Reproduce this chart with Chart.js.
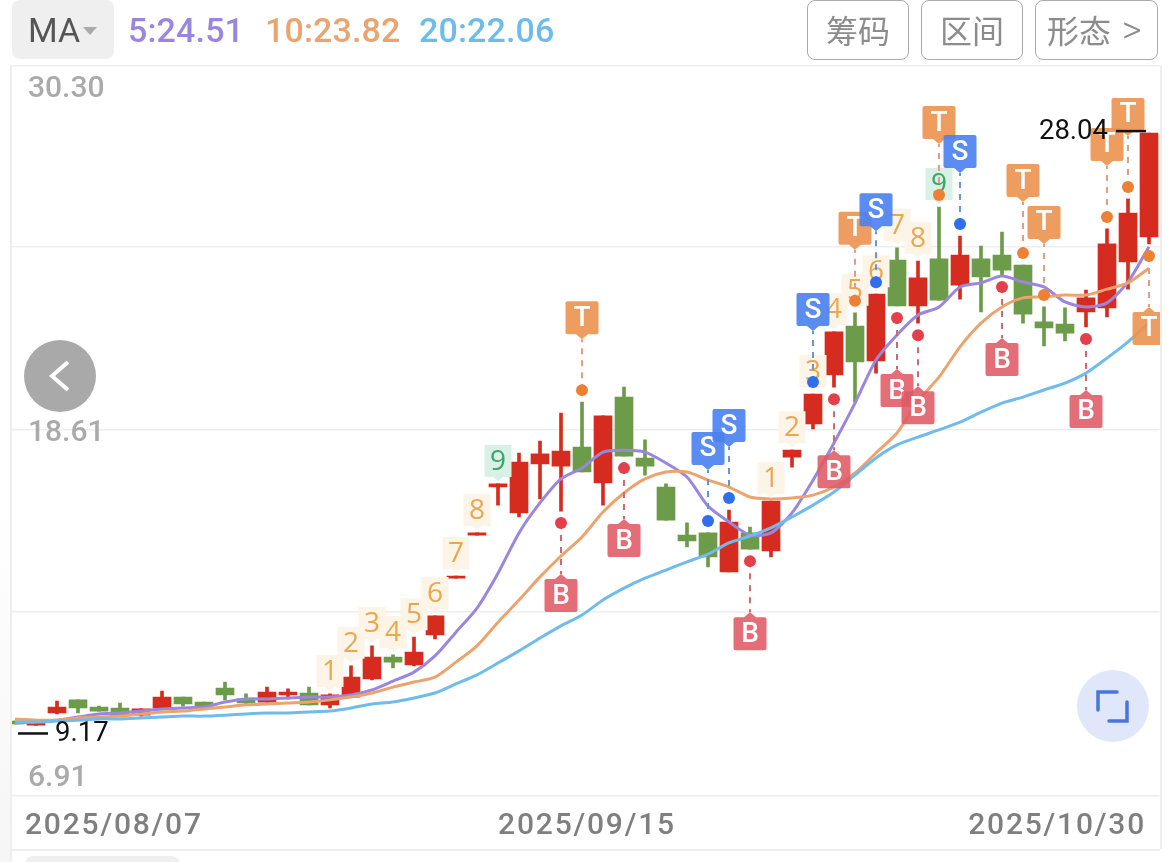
<!DOCTYPE html>
<html>
<head>
<meta charset="utf-8">
<title>MA</title>
<script src="https://cdn.jsdelivr.net/npm/chart.js@4"></script>
<style>
  html, body { margin: 0; padding: 0; background: #fff; overflow: hidden; }
  #wrap { position: relative; width: 1170px; height: 862px; font-family: Roboto, sans-serif; }
  #grafico { position: absolute; left: 0; top: 0; }
  .abs { position: absolute; box-sizing: border-box; }
  .ma-box { left: 12px; top: 0; width: 102px; height: 59px; background: #efefef; border-radius: 8px; }
  .ma-text { left: 28px; top: 10px; font-size: 34px; line-height: 40px; color: #555; }
  .ma-arrow { left: 83px; top: 27px; width: 0; height: 0; border-left: 7px solid transparent; border-right: 7px solid transparent; border-top: 8px solid #aaa; }
  .leg { top: 10px; font-size: 34px; line-height: 40px; font-weight: 500; letter-spacing: 0.15px; }
  .btn { top: 0; height: 60px; border: 1.5px solid #aaa; border-radius: 8px; color: #8c8c8c; font-family: "Noto Sans CJK SC", sans-serif; font-size: 32px; line-height: 56px; text-align: center; font-weight: 400; }
  .frame { background: #eeeeee; }
  .mask { background: #fff; }
  .back { left: 24px; top: 340px; width: 72px; height: 72px; border-radius: 50%; background: #a9a9a9; }
  .expand { left: 1077px; top: 670px; width: 72px; height: 72px; border-radius: 50%; background: #e0e7fa; }
  .tab { left: 25px; top: 856px; width: 155px; height: 20px; border-radius: 8px; background: #efefef; }
</style>
</head>
<body>
<div id="wrap">
  <canvas id="grafico" width="1170" height="862"></canvas>

  <div class="abs mask" style="left:0;top:60px;width:10px;height:802px;background:linear-gradient(to bottom,#fff 55%,#f6f6f6)"></div>
  <div class="abs mask" style="left:1160px;top:60px;width:10px;height:802px"></div>
  <div class="abs frame" style="left:10px;top:66px;width:1.5px;height:796px"></div>
  <div class="abs frame" style="left:1160px;top:66px;width:1.5px;height:783px"></div>
  <div class="abs frame" style="left:10px;top:849px;width:1150px;height:1.5px"></div>

  <div class="abs ma-box"></div>
  <div class="abs ma-text">MA</div>
  <div class="abs ma-arrow"></div>
  <div class="abs leg" style="left:128px;color:#9b86df">5:24.51</div>
  <div class="abs leg" style="left:265px;color:#eba36f">10:23.82</div>
  <div class="abs leg" style="left:419px;color:#6fbcec">20:22.06</div>
  <div class="abs btn" style="left:807px;width:102px">筹码</div>
  <div class="abs btn" style="left:921px;width:102px">区间</div>
  <div class="abs btn" style="left:1035px;width:123px;text-align:left;padding-left:11px">形态</div>
  <div class="abs" style="left:1122px;top:7px;font-size:38px;line-height:46px;font-weight:300;color:#8c8c8c">&gt;</div>

  <div class="abs back">
    <svg width="72" height="72"><polyline points="44,22 28,36 44,50" fill="none" stroke="#fff" stroke-width="4"/></svg>
  </div>
  <div class="abs expand">
    <svg width="72" height="72"><path d="M21 40 V22 H40 M50 32 V51 H32" fill="none" stroke="#4a76dc" stroke-width="3.5" stroke-linecap="round"/></svg>
  </div>
  <div class="abs tab"></div>
</div>

<script>
// dias de negociação
const dates = [
  '2025/08/07','2025/08/08','2025/08/11','2025/08/12','2025/08/13','2025/08/14','2025/08/15',
  '2025/08/18','2025/08/19','2025/08/20','2025/08/21','2025/08/22',
  '2025/08/25','2025/08/26','2025/08/27','2025/08/28','2025/08/29',
  '2025/09/01','2025/09/02','2025/09/03','2025/09/04','2025/09/05',
  '2025/09/08','2025/09/09','2025/09/10','2025/09/11','2025/09/12',
  '2025/09/15','2025/09/16','2025/09/17','2025/09/18','2025/09/19',
  '2025/09/22','2025/09/23','2025/09/24','2025/09/25','2025/09/26',
  '2025/09/29','2025/09/30','2025/10/09','2025/10/10',
  '2025/10/13','2025/10/14','2025/10/15','2025/10/16','2025/10/17',
  '2025/10/20','2025/10/21','2025/10/22','2025/10/23','2025/10/24',
  '2025/10/27','2025/10/28','2025/10/29','2025/10/30'
];

const opens = [9.31,9.18,9.57,9.99,9.76,9.73,9.50,9.73,10.08,9.92,10.37,10.02,9.92,10.15,10.21,9.83,10.08,10.66,11.36,11.11,12.07,13.89,15.27,16.81,15.98,17.55,17.48,18.09,16.94,19.69,17.74,16.81,15.27,15.34,14.09,15.34,14.76,17.77,18.83,20.40,21.97,20.85,24.08,22.61,24.12,23.28,24.12,24.24,23.92,22.10,22.03,22.42,22.55,24.02,24.82];
const highs = [9.31,9.28,9.95,9.99,9.79,9.89,9.70,10.27,10.08,9.92,10.56,10.18,10.40,10.34,10.40,10.18,11.08,11.72,11.43,12.00,12.68,13.96,15.34,16.91,17.90,18.28,19.18,19.53,19.09,20.01,18.32,16.91,15.66,15.34,16.07,15.53,16.36,17.99,19.79,21.78,22.39,22.99,24.47,24.05,25.78,24.85,24.53,24.98,23.92,22.58,22.55,23.12,25.08,26.04,28.15];
const lows = [9.22,9.17,9.54,9.57,9.63,9.47,9.47,9.73,9.79,9.76,9.99,9.86,9.92,10.02,9.83,9.73,10.08,10.63,11.01,11.08,11.94,13.89,15.27,16.23,15.85,16.43,16.04,17.29,16.23,17.80,17.19,15.75,14.89,14.25,14.09,14.82,14.57,17.45,18.67,20.01,19.53,20.46,22.61,22.06,22.80,22.83,22.42,23.60,22.06,21.33,21.49,21.94,22.26,23.15,24.60];
const closes = [9.22,9.28,9.76,9.73,9.63,9.50,9.70,10.08,9.86,9.79,10.15,9.89,10.24,10.24,9.83,10.15,10.72,11.36,11.20,11.52,12.68,13.96,15.34,16.91,17.61,17.87,17.96,17.29,19.09,17.80,17.48,15.75,15.08,14.57,15.69,14.82,16.36,17.99,19.79,21.78,20.82,22.99,22.61,23.51,22.80,24.24,23.54,23.76,22.35,21.91,21.74,22.87,24.60,25.59,28.15];

const ma5 = [9.25,9.28,9.34,9.44,9.54,9.57,9.63,9.70,9.73,9.76,9.92,10.02,10.02,10.05,10.08,10.08,10.15,10.31,10.59,10.88,11.40,12.16,12.93,14.05,15.34,16.30,17.07,17.42,17.93,17.99,17.93,17.58,17.13,16.20,15.69,15.27,15.34,15.98,17.03,18.22,19.50,20.88,21.68,22.32,22.58,23.22,23.35,23.57,23.38,23.22,22.74,22.58,22.71,23.38,24.51];
const ma10 = [9.38,9.34,9.34,9.41,9.44,9.47,9.54,9.60,9.63,9.70,9.76,9.83,9.86,9.89,9.92,9.99,10.08,10.21,10.40,10.56,10.72,11.20,11.72,12.48,13.19,13.93,14.60,15.21,16.01,16.62,17.07,17.29,17.29,17.03,16.81,16.49,16.43,16.46,16.55,16.81,17.26,17.90,18.54,19.57,20.33,21.30,22.06,22.58,22.87,22.90,22.96,22.96,23.15,23.35,23.82];
const ma20 = [9.28,9.28,9.31,9.34,9.38,9.38,9.41,9.44,9.47,9.47,9.50,9.54,9.57,9.57,9.60,9.63,9.73,9.86,9.92,10.05,10.21,10.50,10.79,11.17,11.56,11.97,12.36,12.71,13.19,13.57,13.89,14.15,14.41,14.66,15.02,15.24,15.50,15.85,16.23,16.65,17.19,17.74,18.16,18.41,18.64,18.89,19.21,19.50,19.69,19.92,20.14,20.46,20.94,21.46,22.06];

// contagem sequencial por cima das velas
const countIndices = [15,16,17,18,19,20,21,22,23,36,37,38,39,40,41,42,43,44];
const countValues = [1,2,3,4,5,6,7,8,9,1,2,3,4,5,6,7,8,9];

// sinais (índice da vela)
const tSignals = [27,40,44,48,49,52,53];
const tSignalsBelow = [54];
const sSignals = [33,34,38,41,45];
const bSignals = [26,29,35,39,42,43,47,51];

const yMin = 6.91;
const yMax = 30.30;
const gridValues = [30.30,24.50,18.64,12.80,6.91];
const yLabels = ['30.30','18.61','6.91'];
const xLabels = ['2025/08/07','2025/09/15','2025/10/30'];
const lowLabel = '9.17';
const highLabel = '28.04';

const RED = '#d62c1f';
const GREEN = '#6c9c4a';
const candleColors = closes.map((c, i) => (c >= opens[i] ? RED : GREEN));

function drawFlag(ctx, x, dotY, dir, letter, fill, stem, dot) {
  const tipY = dotY + dir * 51;
  ctx.save();
  // haste tracejada
  ctx.strokeStyle = stem;
  ctx.lineWidth = 2;
  ctx.setLineDash([6, 6]);
  ctx.beginPath();
  ctx.moveTo(x, dotY);
  ctx.lineTo(x, tipY);
  ctx.stroke();
  ctx.setLineDash([]);
  // ponto
  ctx.fillStyle = dot;
  ctx.beginPath();
  ctx.arc(x, dotY, 6, 0, Math.PI * 2);
  ctx.fill();
  // bandeira
  const baseY = tipY + dir * 5;
  const boxY = dir < 0 ? baseY - 33 : baseY;
  ctx.fillStyle = fill;
  ctx.beginPath();
  ctx.roundRect(x - 16.5, boxY, 33, 33, 2);
  ctx.moveTo(x - 6, baseY);
  ctx.lineTo(x, tipY);
  ctx.lineTo(x + 6, baseY);
  ctx.closePath();
  ctx.fill();
  ctx.fillStyle = '#fff';
  ctx.font = '500 28px Roboto';
  ctx.textAlign = 'center';
  ctx.textBaseline = 'middle';
  ctx.fillText(letter, x, boxY + 17.5);
  ctx.restore();
}

const overlayPlugin = {
  id: 'overlay',
  afterDatasetsDraw(chart) {
    const ctx = chart.ctx;
    const xs = chart.scales.x;
    const ys = chart.scales.y;

    // contagem
    countIndices.forEach((idx, k) => {
      const x = xs.getPixelForValue(idx);
      const cy = ys.getPixelForValue(highs[idx]) - 23;
      const nine = countValues[k] === 9;
      ctx.save();
      ctx.fillStyle = nine ? '#d9f0e4' : '#fdf4e8';
      ctx.beginPath();
      ctx.rect(x - 13.5, cy - 16, 27, 32);
      ctx.moveTo(x - 5, cy + 16);
      ctx.lineTo(x, cy + 20);
      ctx.lineTo(x + 5, cy + 16);
      ctx.closePath();
      ctx.fill();
      ctx.fillStyle = nine ? '#3aa56e' : '#e8a850';
      ctx.font = '400 28px "Open Sans"';
      ctx.textAlign = 'center';
      ctx.textBaseline = 'middle';
      ctx.fillText(String(countValues[k]), x, cy + 1);
      ctx.restore();
    });

    // sinais por ordem de vela
    const signals = [];
    tSignals.forEach(i => signals.push({ i, kind: 'T', dir: -1 }));
    tSignalsBelow.forEach(i => signals.push({ i, kind: 'T', dir: 1 }));
    sSignals.forEach(i => signals.push({ i, kind: 'S', dir: -1 }));
    bSignals.forEach(i => signals.push({ i, kind: 'B', dir: 1 }));
    signals.sort((a, b) => a.i - b.i);
    const look = {
      T: ['rgba(236,146,80,0.9)', '#e0a080', '#ee8036'],
      S: ['rgba(76,130,240,0.92)', '#6a94d8', '#2f6fee'],
      B: ['rgba(224,90,100,0.88)', '#c96a74', '#e2404a']
    };
    signals.forEach(s => {
      const x = xs.getPixelForValue(s.i);
      const anchor = s.dir < 0 ? ys.getPixelForValue(highs[s.i]) : ys.getPixelForValue(lows[s.i]);
      const c = look[s.kind];
      drawFlag(ctx, x, anchor + s.dir * 12, s.dir, s.kind, c[0], c[1], c[2]);
    });

    // mínimo e máximo
    ctx.save();
    ctx.fillStyle = '#111';
    ctx.strokeStyle = '#111';
    ctx.lineWidth = 2.5;
    ctx.font = '400 27.5px Roboto';
    ctx.textBaseline = 'middle';
    const loIdx = lows.indexOf(Math.min(...lows));
    const hiIdx = highs.indexOf(Math.max(...highs));
    const loX = xs.getPixelForValue(loIdx);
    const loY = ys.getPixelForValue(lows[loIdx]) + 8;
    ctx.beginPath();
    ctx.moveTo(loX - 18, loY);
    ctx.lineTo(loX + 12, loY);
    ctx.stroke();
    ctx.textAlign = 'left';
    ctx.fillText(lowLabel, loX + 19, loY + 1);
    const hiX = xs.getPixelForValue(hiIdx);
    const hiY = ys.getPixelForValue(highs[hiIdx]) - 2;
    ctx.beginPath();
    ctx.moveTo(hiX - 33, hiY);
    ctx.lineTo(hiX - 3, hiY);
    ctx.stroke();
    ctx.textAlign = 'right';
    ctx.fillText(highLabel, hiX - 41, hiY + 1);
    ctx.restore();

    // rótulos dos eixos
    ctx.save();
    ctx.fillStyle = '#aaaaaa';
    ctx.font = '500 30px Roboto';
    ctx.textAlign = 'left';
    ctx.textBaseline = 'middle';
    ctx.fillText(yLabels[0], 28, ys.getPixelForValue(yMax) + 23);
    ctx.fillText(yLabels[1], 28, ys.getPixelForValue(18.61) + 3);
    ctx.fillText(yLabels[2], 28, ys.getPixelForValue(yMin) - 18);
    ctx.fillStyle = '#7f7f7f';
    ctx.letterSpacing = '1.8px';
    const labelY = chart.chartArea.bottom + 30;
    ctx.textAlign = 'left';
    ctx.fillText(xLabels[0], 25, labelY);
    ctx.textAlign = 'center';
    ctx.fillText(xLabels[1], 587, labelY);
    ctx.textAlign = 'right';
    ctx.fillText(xLabels[2], 1146, labelY);
    ctx.restore();
  }
};

const ctx = document.getElementById('grafico').getContext('2d');

new Chart(ctx, {
  type: 'bar',
  data: {
    labels: dates,
    datasets: [
      {
        type: 'line', label: 'MA5', data: ma5, borderColor: '#9b86df', borderWidth: 3,
        pointRadius: 0, tension: 0.25, order: 2
      },
      {
        type: 'line', label: 'MA10', data: ma10, borderColor: '#eba36f', borderWidth: 3,
        pointRadius: 0, tension: 0.25, order: 1
      },
      {
        type: 'line', label: 'MA20', data: ma20, borderColor: '#6fbcec', borderWidth: 3,
        pointRadius: 0, tension: 0.25, order: 0
      },
      {
        label: 'Corpo', data: opens.map((o, i) => [o, closes[i]]), backgroundColor: candleColors,
        barThickness: 18, grouped: false, order: 3
      },
      {
        label: 'Pavio', data: lows.map((l, i) => [l, highs[i]]), backgroundColor: candleColors,
        barThickness: 3, grouped: false, order: 4
      }
    ]
  },
  options: {
    responsive: false,
    animation: false,
    layout: { padding: { left: 4.5, right: 10.5, top: 66, bottom: 66 } },
    plugins: { legend: { display: false }, tooltip: { enabled: false } },
    scales: {
      x: { display: false, offset: true },
      y: {
        min: yMin,
        max: yMax,
        border: { display: false },
        grid: { color: '#eeeeee', lineWidth: 1.5, drawTicks: false },
        ticks: { display: false },
        afterBuildTicks(axis) {
          axis.ticks = gridValues.map(v => ({ value: v }));
        },
        afterFit(axis) { axis.width = 0; }
      }
    }
  },
  plugins: [overlayPlugin]
});
</script>
</body>
</html>
